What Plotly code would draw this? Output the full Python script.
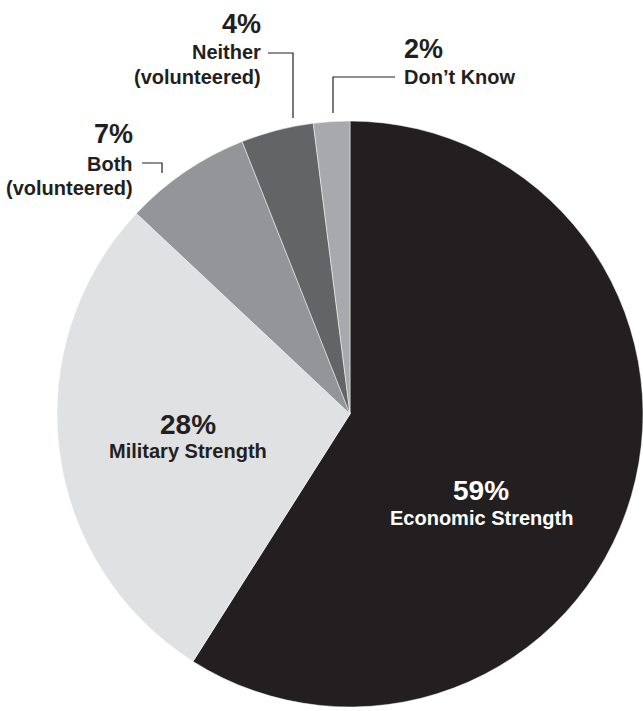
import plotly.graph_objects as go

# Survey shares, clockwise from 12 o'clock
categories = ["Economic Strength", "Military Strength", "Both (volunteered)",
              "Neither (volunteered)", "Don\u2019t Know"]
values = [59, 28, 7, 4, 2]
colors = ["#231f20", "#e0e1e3", "#939598", "#636466", "#a8a9ac"]

W, H = 643, 711
FONT = "Liberation Sans, Arial, sans-serif"
INK = "#231f20"

fig = go.Figure(go.Pie(
    labels=categories,
    values=values,
    sort=False,
    direction="clockwise",
    rotation=0,
    textinfo="none",
    hoverinfo="label+percent",
    marker=dict(colors=colors, line=dict(color="white", width=0.5)),
    domain=dict(x=[57 / W, 1.0], y=[4 / H, 590 / H]),
    showlegend=False,
))


def px(x, y):
    return x / W, 1 - y / H


annotations = []


def label(x, y, text, size, anchor="center", color=INK):
    ax, ay = px(x, y)
    annotations.append(dict(
        x=ax, y=ay, xref="paper", yref="paper", text=text, showarrow=False,
        xanchor=anchor, yanchor="middle",
        font=dict(family=FONT, size=size, color=color),
    ))


pct = [f"<b>{v}%</b>" for v in values]
LBL = 20
PCT_BIG = 28
PCT = 27

# Inside labels
label(188, 424, pct[1], PCT_BIG)
label(188, 451, "<b>Military Strength</b>", LBL)
label(481, 490, pct[0], PCT_BIG, color="white")
label(481, 518, "<b>Economic Strength</b>", LBL, color="white")

# Outside labels
label(135, 134, pct[2], PCT, anchor="right")
label(135, 164, "<b>Both</b>", LBL, anchor="right")
label(135, 188, "<b>(volunteered)</b>", LBL, anchor="right")

label(263, 24, pct[3], PCT, anchor="right")
label(263, 52, "<b>Neither</b>", LBL, anchor="right")
label(263, 77, "<b>(volunteered)</b>", LBL, anchor="right")

label(402, 49, pct[4], PCT, anchor="left")
label(402, 77, "<b>Don\u2019t Know</b>", LBL, anchor="left")

# Leader lines from labels to the pie rim
leaders = [
    [(142, 163), (162, 163), (162, 173)],
    [(268, 53), (293, 53), (293, 118)],
    [(395, 77), (333, 77), (333, 113)],
]
shapes = []
for pts in leaders:
    path = "M " + " L ".join(f"{px(x, y)[0]},{px(x, y)[1]}" for x, y in pts)
    shapes.append(dict(type="path", path=path, xref="paper", yref="paper",
                       line=dict(color=INK, width=1.2)))

fig.update_layout(
    width=W, height=H,
    margin=dict(l=0, r=0, t=0, b=0),
    paper_bgcolor="white",
    plot_bgcolor="white",
    annotations=annotations,
    shapes=shapes,
)

fig.write_html("out.html")
